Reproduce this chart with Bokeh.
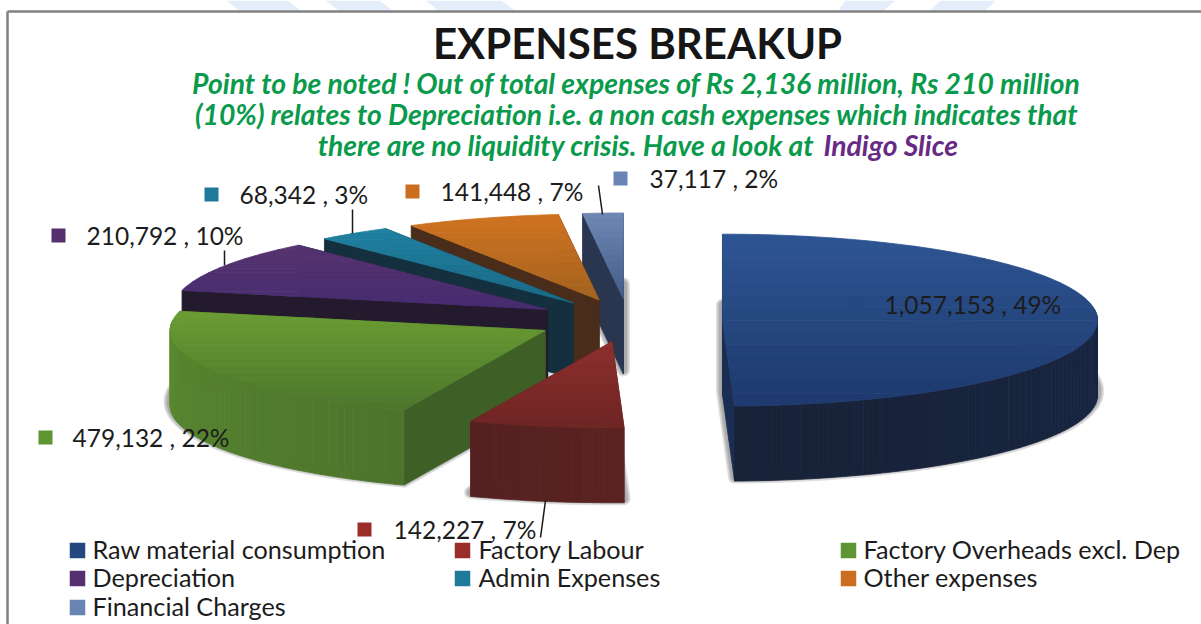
import numpy as np
from bokeh.plotting import figure
from bokeh.models import Range1d
from bokeh.core.properties import value
from bokeh.embed import file_html
from bokeh.resources import INLINE

categories = ["Raw material consumption", "Factory Labour", "Factory Overheads excl. Dep",
              "Depreciation", "Admin Expenses", "Other expenses", "Financial Charges"]
amounts = [1057153, 142227, 479132, 210792, 68342, 141448, 37117]

TITLE = "EXPENSES BREAKUP"
NOTE_1 = "Point to be noted ! Out of total expenses of Rs 2,136 million, Rs 210 million"
NOTE_2 = "(10%) relates to Depreciation i.e. a non cash expenses which indicates that"
NOTE_3 = "there are no liquidity crisis. Have a look at "
NOTE_4 = "Indigo Slice"

top_a = ["#2d5492", "#8c2f2d", "#6a9c33", "#55336f", "#1f80a0", "#cf7220", "#6d86b3"]
top_b = ["#1e3a6e", "#6f2624", "#4e772c", "#472c70", "#1b6a86", "#a5641f", "#445d88"]
side_a = ["#172a4c", "#5a2322", "#5c8c30", "#241a2e", "#14303e", "#4a2c1a", "#2a3550"]
side_b = ["#182238", "#552120", "#4d742c", "#241a2e", "#14303e", "#4a2c1a", "#2a3550"]
cut_a = ["#1a2d52", "#5a2322", "#3e5f26", "#241a2e", "#14303e", "#4a2c1a", "#2a3550"]
marker_cols = ["#234880", "#9a2c2a", "#5f9433", "#54306f", "#1f7a9a", "#cc6e20", "#6a84b4"]

# geometry of the projected pie (pixel-like plot units)
CX, CY, RX, RY, DEPTH, EXPLODE = 628.0, 320.0, 375.0, 86.0, 75.0, 94.0
TILT = RY / RX

p = figure(width=1201, height=624, output_backend="svg", toolbar_location=None,
           x_range=Range1d(0, 1201), y_range=Range1d(624, 0),
           x_axis_type=None, y_axis_type=None, min_border=0, outline_line_color=None,
           background_fill_color="white", border_fill_color="white")
p.grid.visible = False

# faint page stripes above the frame
p.patches([[226, 287, 300, 238], [325, 379, 392, 338], [425, 501, 514, 438],
           [845, 895, 883, 838], [940, 995, 985, 930]],
          [[0, 0, 10, 10]] * 5, fill_color="#e3eefa", line_color=None)


def mix(c1, c2, t):
    a = [int(c1[i:i + 2], 16) for i in (1, 3, 5)]
    b = [int(c2[i:i + 2], 16) for i in (1, 3, 5)]
    return "#%02x%02x%02x" % tuple(int(round(a[i] + (b[i] - a[i]) * t)) for i in range(3))


def clip(poly, y0, y1):
    def half(pts, keep, cross):
        out = []
        for i in range(len(pts)):
            a, b = pts[i], pts[(i + 1) % len(pts)]
            if keep(a):
                out.append(a)
            if keep(a) != keep(b):
                t = (cross - a[1]) / (b[1] - a[1])
                out.append((a[0] + (b[0] - a[0]) * t, cross))
        return out
    r = half(poly, lambda q: q[1] >= y0, y0)
    return half(r, lambda q: q[1] <= y1, y1) if r else r


def fill(poly, color):
    x, y = zip(*poly)
    p.patch(list(x), list(y), fill_color=color, line_color=color, line_width=0.8)


total = sum(amounts)
bounds = np.concatenate([[0], np.cumsum(amounts)]) / total * 2 * np.pi

for i in [6, 5, 4, 3, 2, 1, 0]:
    a0, a1 = bounds[i], bounds[i + 1]
    mid = (a0 + a1) / 2
    ax = CX + EXPLODE * np.sin(mid)
    ay = CY - EXPLODE * TILT * np.cos(mid)
    th = np.linspace(a0, a1, max(4, int((a1 - a0) / 0.025)))
    ex = ax + RX * np.sin(th)
    ey = ay - RY * np.cos(th)

    # soft shadow of the base
    base = [(ax, ay + DEPTH - 4)] + [(x, y + DEPTH - 4) for x, y in zip(ex, ey)]
    bx, by = zip(*base)
    for lw in (13, 10, 7):
        p.patch(list(bx), list(by), fill_color="#555555", fill_alpha=0.0,
                line_color="#555555", line_alpha=0.2, line_width=lw, line_join="round")

    # cut faces
    for k in (-1, 0):
        fill([(ax, ay), (ex[k], ey[k]), (ex[k], ey[k] + DEPTH), (ax, ay + DEPTH)], cut_a[i])

    # outer rim, lit strip by strip
    for j in range(len(th) - 1):
        if np.cos(th[j]) < 0.12 or np.cos(th[j + 1]) < 0.12:
            t = j / max(1, len(th) - 2)
            t = t if i != 2 else 1 - t
            col = mix(side_a[i], side_b[i], t)
            fill([(ex[j], ey[j]), (ex[j + 1], ey[j + 1]),
                  (ex[j + 1], ey[j + 1] + DEPTH), (ex[j], ey[j] + DEPTH)], col)

    # top face with a vertical gradient
    poly = [(ax, ay)] + list(zip(ex, ey))
    ys = [q[1] for q in poly]
    lo, hi = min(ys), max(ys)
    steps = 14
    edges = np.linspace(lo, hi, steps + 1)
    for s in range(steps):
        piece = clip(poly, edges[s], edges[s + 1])
        if len(piece) >= 3:
            fill(piece, mix(top_a[i], top_b[i], s / (steps - 1)))

# frame
p.line([7, 7], [11, 624], line_color="#808080", line_width=2.5)
p.line([7, 1201], [11, 11], line_color="#808080", line_width=2.5)

# leader lines
for xs, ys in [([598, 602], [185, 214]), ([352, 352], [209, 233]),
               ([224, 224], [250, 265]), ([545, 540], [500, 537])]:
    p.line(xs, ys, line_color="#1a1a1a", line_width=1.5)


def txt(x, y, s, size, color, style="normal", align="left"):
    p.text([x], [y], text=[s], text_font=value("Lato"), text_font_size=value(size),
           text_font_style=value(style), text_color=color, text_align=value(align),
           text_baseline=value("middle"))


txt(637, 42, TITLE, "42px", "#161616", "bold", "center")
txt(636, 82.5, NOTE_1, "28.3px", "#0a9a4c", "bold italic", "center")
txt(636, 113, NOTE_2, "28.3px", "#0a9a4c", "bold italic", "center")
txt(820, 144, NOTE_3, "28.3px", "#0a9a4c", "bold italic", "right")
txt(823, 144, NOTE_4, "28.3px", "#672a85", "bold italic", "left")

# data labels
label_pos = [(855, 884, 305), (364, 393, 530), (45, 72, 438), (58, 86, 236),
             (211, 239, 195), (412, 440, 192), (620, 649, 179)]
for i, (mx, tx, ty) in enumerate(label_pos):
    p.scatter([mx], [ty - 1], marker="square", size=14, fill_color=marker_cols[i], line_color=None)
    s = f"{amounts[i]:,} , {round(amounts[i] / total * 100)}%"
    txt(tx, ty - 1.5, s, "24.5px", "#1c1c1c")

# legend
legend_pos = [(77, 92, 550), (462, 478, 550), (848, 863, 550),
              (77, 92, 578), (462, 478, 578), (848, 863, 578), (77, 92, 607)]
for i, (mx, tx, ty) in enumerate(legend_pos):
    p.scatter([mx], [ty], marker="square", size=15.5, fill_color=marker_cols[i], line_color=None)
    txt(tx, ty - 1.5, categories[i], "25.2px", "#1c1c1c")

open("out.html", "w").write(file_html(p, INLINE))
